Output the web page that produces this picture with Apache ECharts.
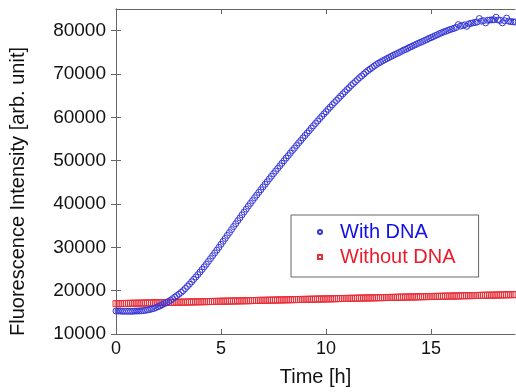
<!DOCTYPE html>
<html>
<head>
<meta charset="utf-8">
<script src="https://cdn.jsdelivr.net/npm/echarts@6/dist/echarts.min.js"></script>
<style>
  html, body { margin: 0; padding: 0; background: #fff; }
  #chart { width: 516px; height: 392px; }
</style>
</head>
<body>
<div id="chart"></div>
<script>
// time points [h]
const times = [
  0, 0.1, 0.2, 0.3, 0.4, 0.5, 0.6, 0.7, 0.8, 0.9,
  1, 1.1, 1.2, 1.3, 1.4, 1.5, 1.6, 1.7, 1.8, 1.9,
  2, 2.1, 2.2, 2.3, 2.4, 2.5, 2.6, 2.7, 2.8, 2.9,
  3, 3.1, 3.2, 3.3, 3.4, 3.5, 3.6, 3.7, 3.8, 3.9,
  4, 4.1, 4.2, 4.3, 4.4, 4.5, 4.6, 4.7, 4.8, 4.9,
  5, 5.1, 5.2, 5.3, 5.4, 5.5, 5.6, 5.7, 5.8, 5.9,
  6, 6.1, 6.2, 6.3, 6.4, 6.5, 6.6, 6.7, 6.8, 6.9,
  7, 7.1, 7.2, 7.3, 7.4, 7.5, 7.6, 7.7, 7.8, 7.9,
  8, 8.1, 8.2, 8.3, 8.4, 8.5, 8.6, 8.7, 8.8, 8.9,
  9, 9.1, 9.2, 9.3, 9.4, 9.5, 9.6, 9.7, 9.8, 9.9,
  10, 10.1, 10.2, 10.3, 10.4, 10.5, 10.6, 10.7, 10.8, 10.9,
  11, 11.1, 11.2, 11.3, 11.4, 11.5, 11.6, 11.7, 11.8, 11.9,
  12, 12.1, 12.2, 12.3, 12.4, 12.5, 12.6, 12.7, 12.8, 12.9,
  13, 13.1, 13.2, 13.3, 13.4, 13.5, 13.6, 13.7, 13.8, 13.9,
  14, 14.1, 14.2, 14.3, 14.4, 14.5, 14.6, 14.7, 14.8, 14.9,
  15, 15.1, 15.2, 15.3, 15.4, 15.5, 15.6, 15.7, 15.8, 15.9,
  16, 16.1, 16.2, 16.3, 16.4, 16.5, 16.6, 16.7, 16.8, 16.9,
  17, 17.1, 17.2, 17.3, 17.4, 17.5, 17.6, 17.7, 17.8, 17.9,
  18, 18.1, 18.2, 18.3, 18.4, 18.5, 18.6, 18.7, 18.8, 18.9,
  19
];

// fluorescence, with DNA
const withDNA = [
  15300, 15300, 15300, 15250, 15250, 15250, 15250, 15250, 15250, 15300,
  15300, 15320, 15350, 15400, 15470, 15550, 15650, 15770, 15900, 16100,
  16300, 16500, 16750, 17000, 17250, 17500, 17800, 18150, 18500, 18850,
  19200, 19600, 20000, 20500, 21000, 21500, 22050, 22600, 23150, 23700,
  24300, 24900, 25500, 26100, 26750, 27400, 28050, 28700, 29350, 30000,
  30700, 31400, 32050, 32750, 33400, 34100, 34800, 35450, 36150, 36800,
  37500, 38150, 38800, 39500, 40150, 40800, 41450, 42050, 42700, 43300,
  43950, 44550, 45150, 45800, 46400, 47000, 47600, 48200, 48800, 49400,
  50000, 50600, 51150, 51750, 52350, 52900, 53500, 54100, 54650, 55250,
  55800, 56350, 56900, 57500, 58050, 58600, 59150, 59700, 60250, 60800,
  61300, 61850, 62350, 62900, 63400, 63900, 64400, 64900, 65400, 65900,
  66400, 66850, 67350, 67800, 68250, 68700, 69150, 69550, 70000, 70400,
  70800, 71150, 71500, 71850, 72200, 72500, 72750, 73050, 73300, 73550,
  73800, 74050, 74300, 74550, 74750, 75000, 75250, 75500, 75700, 75950,
  76200, 76400, 76650, 76850, 77100, 77300, 77500, 77750, 77950, 78200,
  78400, 78600, 78850, 79050, 79300, 79500, 79700, 79850, 80050, 80250,
  80400, 80550, 80750, 81400, 81050, 81200, 81350, 81000, 81550, 81700,
  81800, 81900, 82000, 82800, 82200, 82300, 81800, 82400, 82450, 82500,
  82500, 83100, 82450, 82400, 81800, 82300, 82900, 82200, 82100, 82050,
  82000
];

// fluorescence, without DNA
const withoutDNA = [
  17000, 17010, 17020, 17030, 17040, 17060, 17070, 17080, 17090, 17100,
  17110, 17120, 17130, 17140, 17150, 17170, 17180, 17190, 17200, 17210,
  17220, 17230, 17240, 17250, 17260, 17280, 17290, 17300, 17310, 17320,
  17330, 17340, 17350, 17360, 17370, 17390, 17400, 17410, 17420, 17430,
  17440, 17450, 17460, 17470, 17480, 17500, 17510, 17520, 17530, 17540,
  17550, 17560, 17570, 17580, 17590, 17610, 17620, 17630, 17640, 17650,
  17660, 17670, 17680, 17690, 17700, 17720, 17730, 17740, 17750, 17760,
  17770, 17780, 17790, 17800, 17810, 17830, 17840, 17850, 17860, 17870,
  17880, 17890, 17900, 17910, 17920, 17940, 17950, 17960, 17970, 17980,
  17990, 18000, 18010, 18020, 18030, 18050, 18060, 18070, 18080, 18090,
  18100, 18110, 18120, 18130, 18140, 18160, 18170, 18180, 18190, 18200,
  18210, 18220, 18230, 18240, 18250, 18270, 18280, 18290, 18300, 18310,
  18320, 18330, 18340, 18350, 18360, 18380, 18390, 18400, 18410, 18420,
  18430, 18440, 18450, 18460, 18470, 18490, 18500, 18510, 18520, 18530,
  18540, 18550, 18560, 18570, 18580, 18600, 18610, 18620, 18630, 18640,
  18650, 18660, 18670, 18680, 18690, 18710, 18720, 18730, 18740, 18750,
  18760, 18770, 18780, 18790, 18800, 18820, 18830, 18840, 18850, 18860,
  18870, 18880, 18890, 18900, 18910, 18930, 18940, 18950, 18960, 18970,
  18980, 18990, 19000, 19010, 19020, 19040, 19050, 19060, 19070, 19080,
  19090
];

const xTicks = [0, 5, 10, 15];
const yTicks = [10000, 20000, 30000, 40000, 50000, 60000, 70000, 80000];

const blue = '#3535d8';
const red = '#e8303a';
const font = 'Liberation Sans, Arial, sans-serif';

const chart = echarts.init(document.getElementById('chart'));

const tickStyle = { inside: true, length: 5, lineStyle: { color: '#666' } };
const lineStyle = { lineStyle: { color: '#666', width: 1 } };

chart.setOption({
  backgroundColor: '#fff',
  animation: false,
  grid: { left: 113, right: 1, top: 9, bottom: 49, show: false },
  xAxis: [
    {
      type: 'value', min: 0, max: 19, interval: 5,
      name: 'Time [h]', nameLocation: 'middle', nameGap: 33,
      nameTextStyle: { fontFamily: font, fontSize: 20, color: '#111' },
      axisLine: lineStyle,
      axisTick: Object.assign({ customValues: xTicks }, tickStyle),
      axisLabel: { customValues: xTicks, fontFamily: font, fontSize: 18, color: '#111', margin: 6 },
      splitLine: { show: false }
    },
    {
      type: 'value', min: 0, max: 19, interval: 5, position: 'top',
      axisLine: lineStyle,
      axisTick: Object.assign({ customValues: xTicks }, tickStyle),
      axisLabel: { show: false },
      splitLine: { show: false }
    }
  ],
  yAxis: [
    {
      type: 'value', min: 10000, max: 85000, interval: 10000,
      name: 'Fluorescence Intensity [arb. unit]', nameLocation: 'middle', nameGap: 88,
      nameTextStyle: { fontFamily: font, fontSize: 20, color: '#111', padding: [0, 40, 0, 0] },
      axisLine: lineStyle,
      axisTick: Object.assign({ customValues: yTicks }, tickStyle),
      axisLabel: {
        customValues: yTicks, fontFamily: font, fontSize: 19, color: '#111', margin: 10,
        formatter: (v) => String(v)
      },
      splitLine: { show: false }
    },
    {
      type: 'value', min: 10000, max: 85000, interval: 10000, position: 'right',
      axisLine: lineStyle,
      axisTick: Object.assign({ customValues: yTicks }, tickStyle),
      axisLabel: { show: false },
      splitLine: { show: false }
    }
  ],
  legend: {
    orient: 'vertical',
    left: 291, top: 215,
    padding: [7, 23, 10, 14],
    itemGap: 5,
    itemWidth: 30, itemHeight: 5,
    backgroundColor: '#fff',
    borderColor: '#666', borderWidth: 1, borderRadius: 0,
    textStyle: { fontFamily: font, fontSize: 20 },
    data: [
      { name: 'With DNA', textStyle: { color: '#1010e8' } },
      { name: 'Without DNA', textStyle: { color: '#ee1a2a' } }
    ]
  },
  series: [
    {
      name: 'Without DNA', type: 'line',
      data: times.map((t, i) => [t, withoutDNA[i]]),
      lineStyle: { width: 0, opacity: 0 },
      symbol: 'rect', symbolSize: 6,
      itemStyle: { color: 'rgba(255,255,255,0)', borderColor: red, borderWidth: 1 },
      z: 2
    },
    {
      name: 'With DNA', type: 'line',
      data: times.map((t, i) => [t, withDNA[i]]),
      lineStyle: { width: 0, opacity: 0 },
      symbol: 'circle', symbolSize: 6,
      itemStyle: { color: 'rgba(255,255,255,0)', borderColor: blue, borderWidth: 1 },
      z: 3
    }
  ]
});
</script>
</body>
</html>
